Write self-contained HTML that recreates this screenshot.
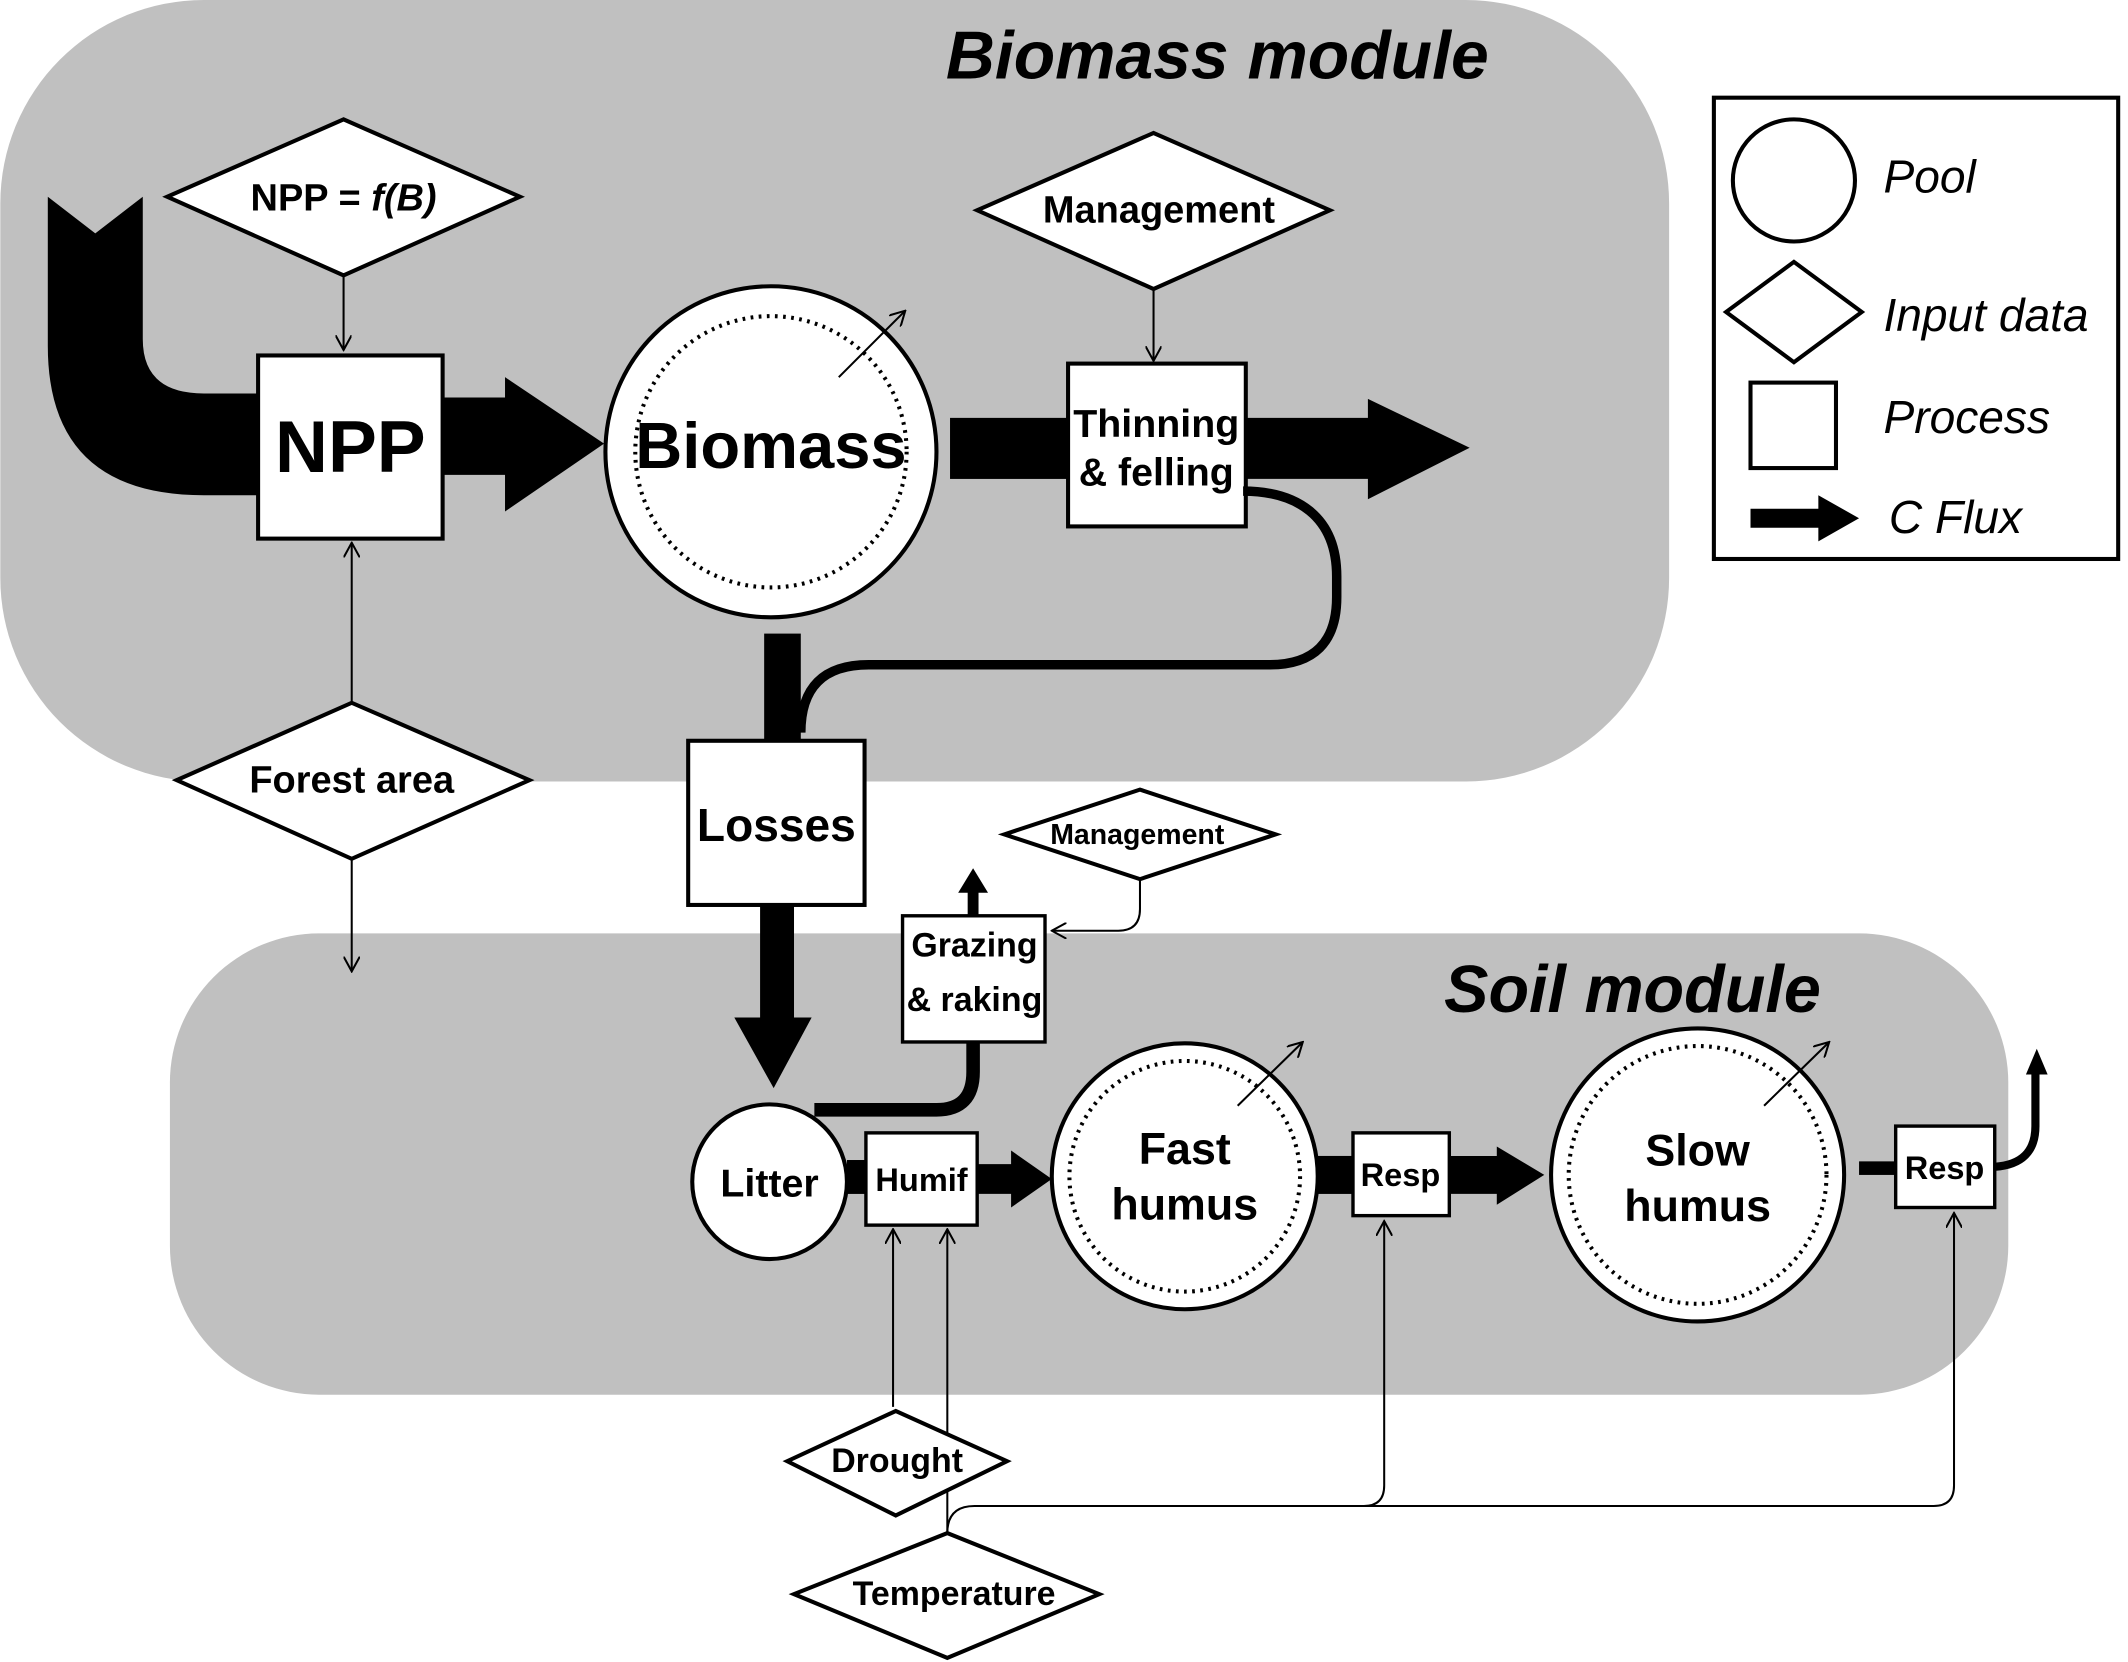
<!DOCTYPE html>
<html><head><meta charset="utf-8"><style>
html,body{margin:0;padding:0;background:#fff;}
svg{display:block;}
text{font-family:"Liberation Sans",Arial,sans-serif;font-weight:bold;fill:#000;}
</style></head><body>
<svg width="2128" height="1662" viewBox="0 0 1568 1225" xmlns="http://www.w3.org/2000/svg">
<defs>
<marker id="oa" viewBox="0 0 12 12" refX="11" refY="6" markerWidth="12" markerHeight="12" markerUnits="userSpaceOnUse" orient="auto">
<path d="M0,0 L11,6 L0,12" fill="none" stroke="#000" stroke-width="1.5"/>
</marker>
</defs>
<rect x="0" y="0" width="1568" height="1225" fill="#fff"/>
<rect x="0" y="0" width="1230" height="576" rx="150" fill="#c0c0c0"/>
<rect x="125" y="688" width="1355" height="340" rx="110" fill="#c0c0c0"/>
<text x="897" y="58" font-size="50" font-style="italic" text-anchor="middle">Biomass module</text>
<text x="1203" y="746" font-size="49" font-style="italic" text-anchor="middle">Soil module</text>

<rect x="1263" y="72" width="298" height="340" fill="#fff" stroke="#000" stroke-width="3"/>
<circle cx="1322" cy="133" r="45" fill="#fff" stroke="#000" stroke-width="3"/>
<polygon points="1272,230 1322,193 1372,230 1322,267" fill="#fff" stroke="#000" stroke-width="3"/>
<rect x="1290" y="282" width="63" height="63" fill="#fff" stroke="#000" stroke-width="3"/>
<polygon points="1290,375 1340,375 1340,365 1370,382 1340,399 1340,389 1290,389" fill="#000"/>
<g font-style="italic">
<text x="1388" y="142" font-size="34" style="font-weight:normal">Pool</text>
<text x="1388" y="244" font-size="34" style="font-weight:normal">Input data</text>
<text x="1388" y="319" font-size="34" style="font-weight:normal">Process</text>
<text x="1392" y="393" font-size="34" style="font-weight:normal">C Flux</text>
</g>

<path d="M35,145 L35,255 Q35,365 150,365 L192,365 L192,290 L150,290 Q105,290 105,250 L105,145 L70,172 Z" fill="#000"/>
<rect x="190" y="262" width="136" height="135" fill="#fff" stroke="#000" stroke-width="3"/>
<text x="258" y="348" font-size="54" text-anchor="middle">NPP</text>
<polygon points="326,293 372,293 372,278 445,327 372,377 372,350 326,350" fill="#000"/>
<polygon points="123,145 253,88 383,145 253,203" fill="#fff" stroke="#000" stroke-width="3"/>
<text x="253" y="155" font-size="28" text-anchor="middle">NPP = <tspan font-style="italic">f(B)</tspan></text>
<line x1="253" y1="203" x2="253" y2="258" stroke="#000" stroke-width="1.5" marker-end="url(#oa)"/>
<polygon points="130,575 259,518 390,575 259,633" fill="#fff" stroke="#000" stroke-width="3"/>
<text x="259" y="584" font-size="28" text-anchor="middle">Forest area</text>
<line x1="259" y1="518" x2="259" y2="400" stroke="#000" stroke-width="1.5" marker-end="url(#oa)"/>
<line x1="259" y1="633" x2="259" y2="716" stroke="#000" stroke-width="1.5" marker-end="url(#oa)"/>

<circle cx="568" cy="333" r="122" fill="#fff" stroke="#000" stroke-width="3"/>
<circle cx="568" cy="333" r="100" fill="none" stroke="#000" stroke-width="3" stroke-dasharray="2,4"/>
<text x="568" y="345" font-size="48" text-anchor="middle">Biomass</text>
<line x1="618" y1="278" x2="667" y2="229" stroke="#000" stroke-width="1.5" marker-end="url(#oa)"/>
<rect x="700" y="308" width="90" height="45" fill="#000"/>
<rect x="787" y="268" width="131" height="120" fill="#fff" stroke="#000" stroke-width="3"/>
<text x="852" y="322" font-size="29" text-anchor="middle">Thinning</text>
<text x="852" y="358" font-size="29" text-anchor="middle">&amp; felling</text>
<polygon points="918,308 1008,308 1008,294 1083,330 1008,368 1008,353 918,353" fill="#000"/>
<polygon points="720,155 850,98 980,155 850,213" fill="#fff" stroke="#000" stroke-width="3"/>
<text x="854" y="164" font-size="28" text-anchor="middle">Management</text>
<line x1="850" y1="213" x2="850" y2="266" stroke="#000" stroke-width="1.5" marker-end="url(#oa)"/>
<path d="M916,362 C955,362 985,380 985,425 L985,440 Q985,490 935,490 L640,490 Q590,490 590,540" fill="none" stroke="#000" stroke-width="7"/>
<rect x="563" y="467" width="27" height="80" fill="#000"/>
<rect x="507" y="546" width="130" height="121" fill="#fff" stroke="#000" stroke-width="3"/>
<text x="572" y="620" font-size="34" text-anchor="middle">Losses</text>
<polygon points="560,667 585,667 585,750 598,750 570,802 541,750 560,750" fill="#000"/>

<polygon points="740,615 840,582 940,615 840,648" fill="#fff" stroke="#000" stroke-width="3"/>
<text x="838" y="622" font-size="21" text-anchor="middle">Management</text>
<path d="M840,648 L840,670 Q840,686 824,686 L775,686" fill="none" stroke="#000" stroke-width="1.5" marker-end="url(#oa)"/>
<rect x="665" y="675" width="105" height="93" fill="#fff" stroke="#000" stroke-width="2.5"/>
<text x="718" y="705" font-size="25" text-anchor="middle">Grazing</text>
<text x="718" y="745" font-size="25" text-anchor="middle">&amp; raking</text>
<rect x="713" y="655" width="8" height="20" fill="#000"/>
<polygon points="706,658 717,640 728,658" fill="#000"/>
<path d="M600,818 L690,818 Q717,818 717,790 L717,768" fill="none" stroke="#000" stroke-width="10"/>

<circle cx="567" cy="871" r="57" fill="#fff" stroke="#000" stroke-width="3"/>
<text x="567" y="882" font-size="29" text-anchor="middle">Litter</text>
<rect x="624" y="855" width="16" height="25" fill="#000"/>
<rect x="638" y="835" width="82" height="68" fill="#fff" stroke="#000" stroke-width="2.5"/>
<text x="679" y="878" font-size="24" text-anchor="middle">Humif</text>
<polygon points="720,858 745,858 745,848 775,869 745,890 745,880 720,880" fill="#000"/>
<circle cx="873" cy="867" r="98" fill="#fff" stroke="#000" stroke-width="3"/>
<circle cx="873" cy="867" r="85" fill="none" stroke="#000" stroke-width="3" stroke-dasharray="2,4"/>
<text x="873" y="858" font-size="33" text-anchor="middle">Fast</text>
<text x="873" y="899" font-size="33" text-anchor="middle">humus</text>
<line x1="912" y1="815" x2="960" y2="768" stroke="#000" stroke-width="1.5" marker-end="url(#oa)"/>
<rect x="970" y="852" width="28" height="28" fill="#000"/>
<rect x="997" y="835" width="71" height="61" fill="#fff" stroke="#000" stroke-width="2.5"/>
<text x="1032" y="874" font-size="24" text-anchor="middle">Resp</text>
<polygon points="1068,852 1103,852 1103,845 1138,866 1103,888 1103,880 1068,880" fill="#000"/>
<circle cx="1251" cy="866" r="108" fill="#fff" stroke="#000" stroke-width="3"/>
<circle cx="1251" cy="866" r="95" fill="none" stroke="#000" stroke-width="3" stroke-dasharray="2,4"/>
<text x="1251" y="859" font-size="33" text-anchor="middle">Slow</text>
<text x="1251" y="900" font-size="33" text-anchor="middle">humus</text>
<line x1="1300" y1="815" x2="1348" y2="768" stroke="#000" stroke-width="1.5" marker-end="url(#oa)"/>
<rect x="1370" y="856" width="28" height="10" fill="#000"/>
<rect x="1397" y="830" width="73" height="60" fill="#fff" stroke="#000" stroke-width="2.5"/>
<text x="1433" y="869" font-size="24" text-anchor="middle">Resp</text>
<path d="M1470,860 Q1500,858 1500,830 L1500,790" fill="none" stroke="#000" stroke-width="6"/>
<polygon points="1493,792 1501,773 1509,792" fill="#000"/>

<line x1="658" y1="1037" x2="658" y2="906" stroke="#000" stroke-width="1.5" marker-end="url(#oa)"/>
<line x1="698" y1="1135" x2="698" y2="906" stroke="#000" stroke-width="1.5" marker-end="url(#oa)"/>
<path d="M698,1130 Q698,1110 718,1110 L1005,1110 Q1020,1110 1020,1095 L1020,900" fill="none" stroke="#000" stroke-width="1.5" marker-end="url(#oa)"/>
<path d="M1005,1110 L1425,1110 Q1440,1110 1440,1095 L1440,894" fill="none" stroke="#000" stroke-width="1.5" marker-end="url(#oa)"/>
<polygon points="580,1077 660,1040 742,1077 660,1117" fill="#fff" stroke="#000" stroke-width="3"/>
<text x="661" y="1085" font-size="25" text-anchor="middle">Drought</text>
<polygon points="585,1175 698,1130 810,1175 698,1222" fill="#fff" stroke="#000" stroke-width="3"/>
<text x="703" y="1183" font-size="25" text-anchor="middle">Temperature</text>
</svg>
</body></html>
